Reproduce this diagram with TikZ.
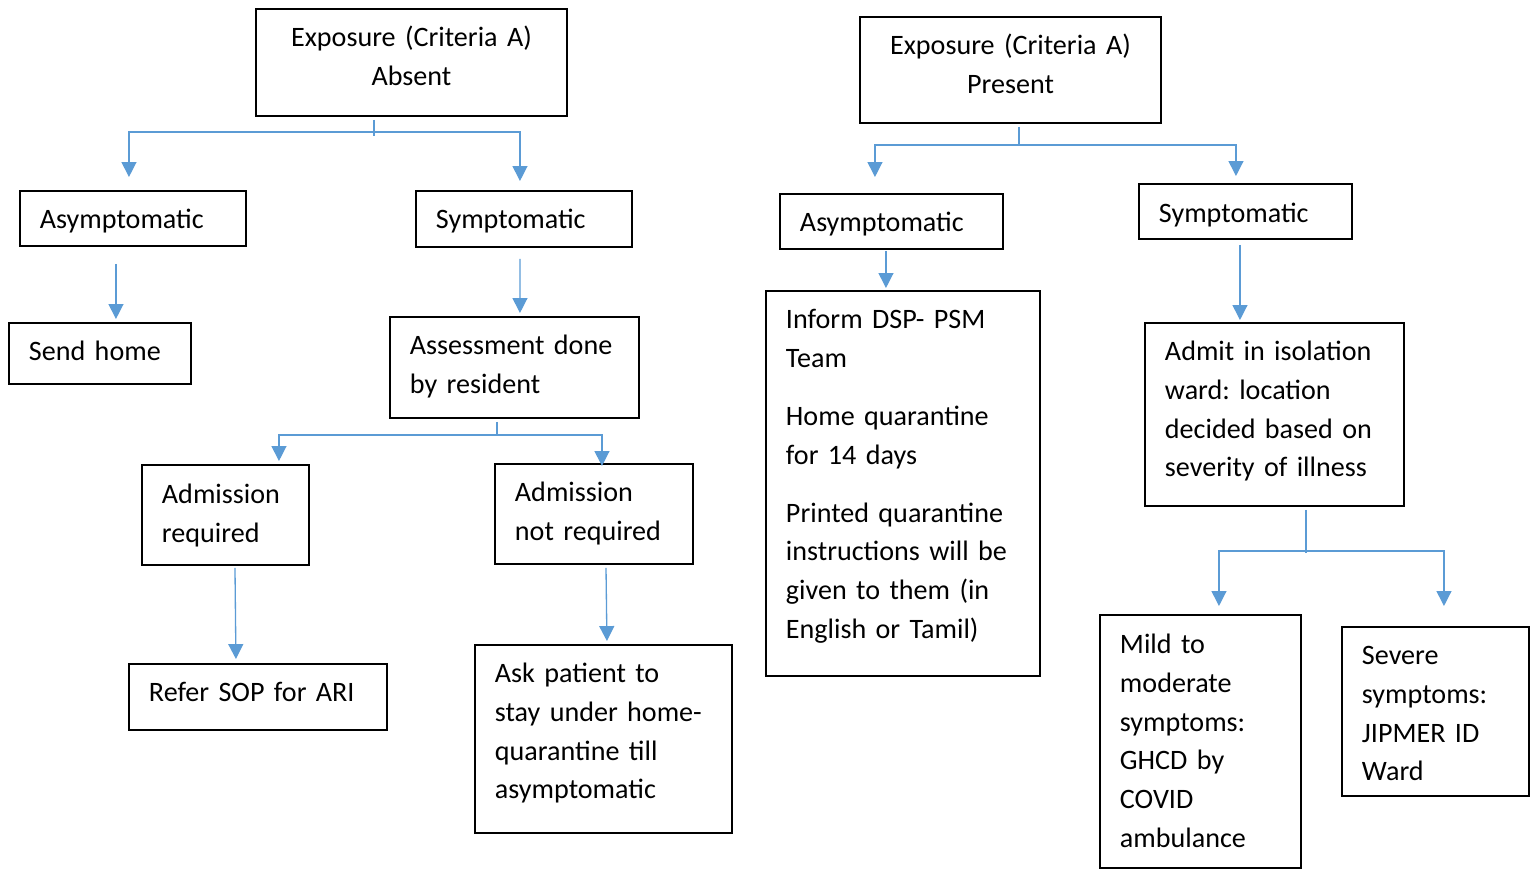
\documentclass[tikz,border=0pt]{standalone}
\usepackage{fontspec}
\setmainfont{Carlito}
\usetikzlibrary{arrows.meta}
\newlength\pxu
\setlength\pxu{0.02cm}
\definecolor{arrowblue}{HTML}{5B9BD5}
\tikzset{
  box/.style={draw=black, line width=1.1pt, anchor=north west, align=left,
    inner xsep=20\pxu, inner ysep=0pt, font=\fontsize{16}{22}\selectfont\frenchspacing},
  bx/.style n args={3}{box, text width=#1\pxu, minimum height=#2\pxu,
    text height=25\pxu, text depth=#3\pxu},
  link/.style={draw=arrowblue, line width=0.75pt},
  arr/.style={link, -{Triangle[width=8.5pt,length=8.5pt]}}
}

\begin{document}
\begin{tikzpicture}[x=0.02cm, y=-0.02cm]
  \useasboundingbox (0,0) rectangle (1538,872);
	%Exposure absent
	\node[bx={271}{107}{56}, align=center] (exA) at (255,8) {Exposure (Criteria A)\\Absent};
	\node[bx={186}{55}{4}] (asymA) at (19,190) {Asymptomatic};
	\node[bx={176}{56}{5}] (sympA) at (415,190) {Symptomatic};
	\node[bx={142}{61}{10}] (home) at (8,322) {Send home};
	\node[bx={209}{101}{50}] (assess) at (389,316) {Assessment done\\by resident};
	\node[bx={127}{100}{47}] (admreq) at (141,464) {Admission\\required};
	\node[bx={158}{100}{49}] (admnot) at (494,463) {Admission\\not required};
	\node[bx={218}{66}{15}] (sop) at (128,663) {Refer SOP for ARI};
	\node[bx={217}{188}{137}] (ask) at (474,644) {Ask patient to\\stay under home-\\quarantine till\\asymptomatic};
	%Exposure present
	\node[bx={261}{106}{55}, align=center] (exP) at (859,16) {Exposure (Criteria A)\\Present};
	\node[bx={183}{55}{4}] (asymP) at (779,193) {Asymptomatic};
	\node[bx={173}{55}{2}] (sympP) at (1138,183) {Symptomatic};
	\node[bx={234}{385}{334}] (inform) at (765,290) {Inform DSP- PSM\\Team\\[11pt]Home quarantine\\for 14 days\\[11pt]Printed quarantine\\instructions will be\\given to them (in\\English or Tamil)};
	\node[bx={219}{183}{132}] (admit) at (1144,322) {Admit in isolation\\ward: location\\decided based on\\severity of illness};
	\node[bx={161}{253}{200}] (mild) at (1099,614) {Mild to\\moderate\\symptoms:\\GHCD by\\COVID\\ambulance};
	\node[bx={147}{169}{118}] (severe) at (1341,626) {Severe\\symptoms:\\JIPMER ID\\Ward};
	%Arrows, absent side
	\coordinate (jA) at (374,132);
	\draw[link, shorten <=3\pxu] (exA.south -| jA) -- ([yshift=-4\pxu]jA);
	\draw[arr, shorten >=13\pxu] (jA) -| ([xshift=-4\pxu]asymA.north);
	\draw[arr, shorten >=9\pxu] (jA) -| ([xshift=-4\pxu]sympA.north);
	\draw[arr, shorten <=17\pxu, shorten >=3\pxu] ([xshift=-17\pxu]asymA.south) -- ([xshift=16\pxu]home.north);
	\draw[arr, shorten <=11\pxu, shorten >=3\pxu] ([xshift=-4\pxu]sympA.south) -- ([xshift=5.5\pxu]assess.north);
	\coordinate (jB) at (497,435);
	\draw[link, shorten <=3\pxu] (assess.south -| jB) -- (jB);
	\draw[arr, shorten >=3\pxu] (jB) -| ([xshift=53.5\pxu]admreq.north);
	\draw[arr, shorten >=-3\pxu] (jB) -| ([xshift=8\pxu]admnot.north);
	\draw[arr, shorten <=2\pxu, shorten >=4\pxu] ([xshift=9.5\pxu]admreq.south) -- ([xshift=-22\pxu]sop.north);
	\draw[arr, shorten <=3\pxu, shorten >=3\pxu] ([xshift=12\pxu]admnot.south) -- ([xshift=3.5\pxu]ask.north);
	%Arrows, present side
	\coordinate (jC) at (1019,145);
	\draw[link, shorten <=3\pxu] (exP.south -| jC) -- (jC);
	\draw[arr, shorten >=16\pxu] (jC) -| ([xshift=-16.5\pxu]asymP.north);
	\draw[arr, shorten >=7\pxu] (jC) -| ([xshift=-9.5\pxu]sympP.north);
	\draw[arr, shorten <=1\pxu, shorten >=2\pxu] ([xshift=-5.5\pxu]asymP.south) -- ([xshift=-17\pxu]inform.north);
	\draw[arr, shorten <=5\pxu, shorten >=2\pxu] ([xshift=-5.5\pxu]sympP.south) -- ([xshift=-34.5\pxu]admit.north);
	\coordinate (jD) at (1306,551);
	\draw[link, shorten <=3\pxu] (admit.south -| jD) -- ([yshift=-2\pxu]jD);
	\draw[arr, shorten >=8\pxu] (jD) -| ([xshift=18.5\pxu]mild.north);
	\draw[arr, shorten >=20\pxu] (jD) -| ([xshift=8.5\pxu]severe.north);
\end{tikzpicture}
\end{document}
